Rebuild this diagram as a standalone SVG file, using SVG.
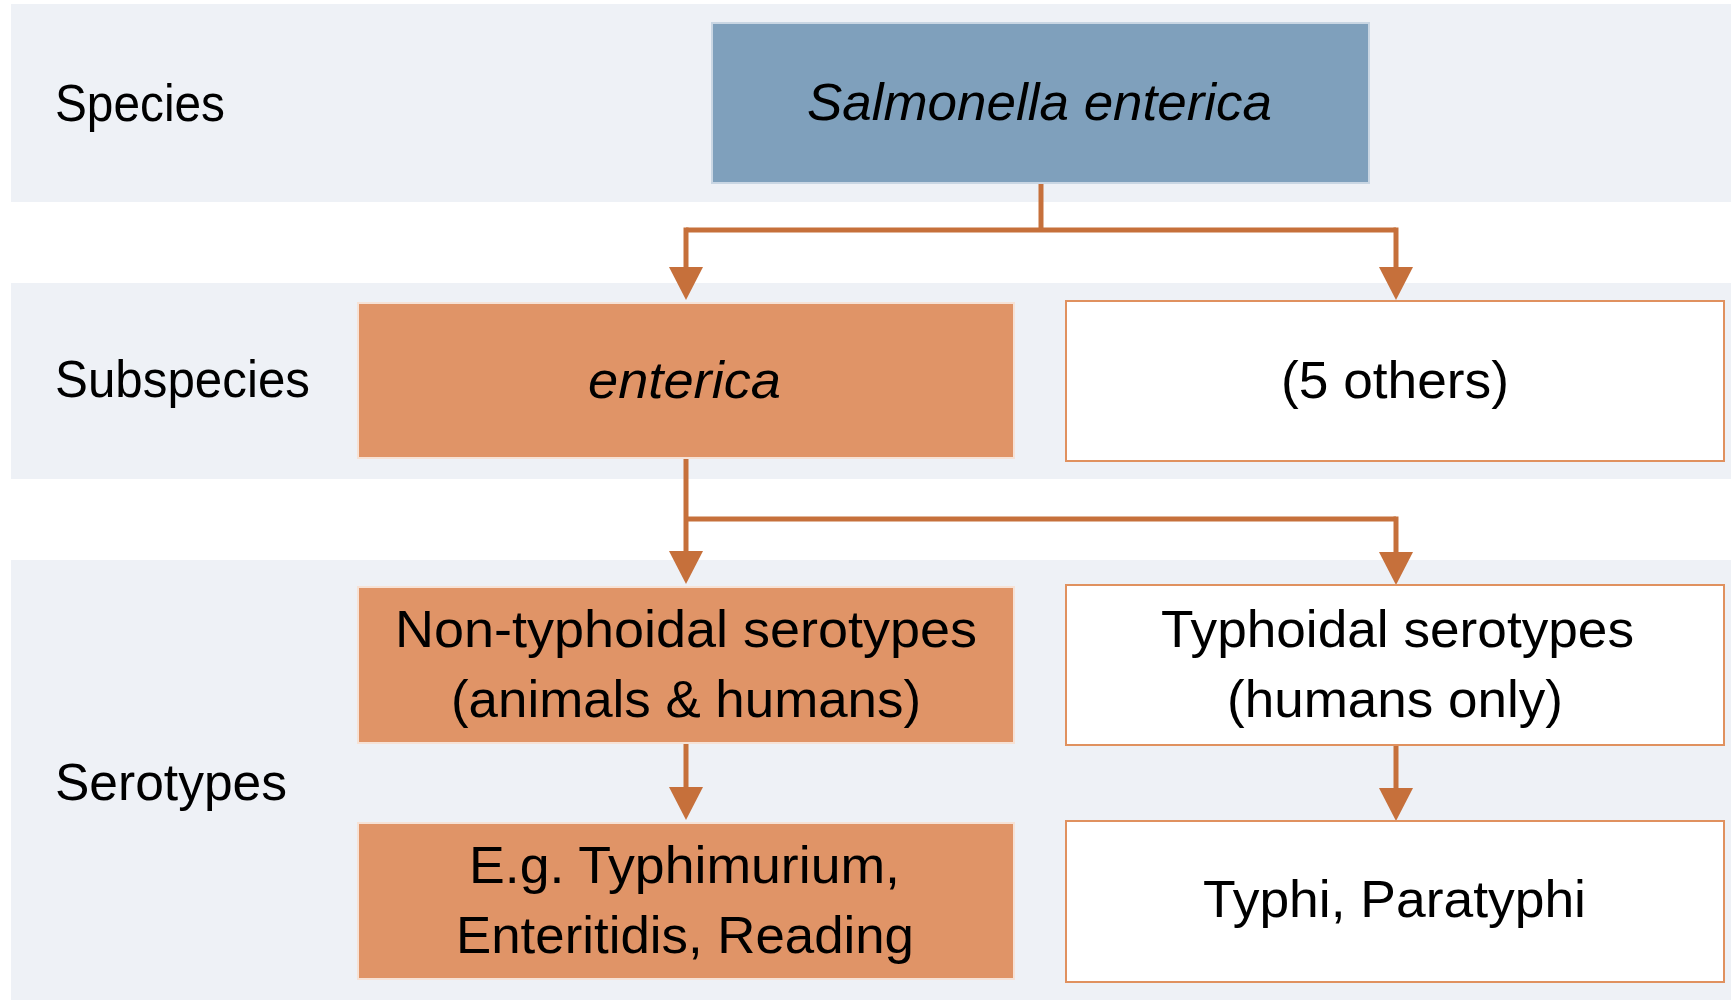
<svg xmlns="http://www.w3.org/2000/svg" width="1731" height="1000" viewBox="0 0 1731 1000">
  <defs>
    <style>
      .band { fill: #EEF1F6; }
      .t { font-family: "Liberation Sans", Arial, sans-serif; font-size: 52px; fill: #000; }
      .it { font-style: italic; }
      .blue { fill: #7FA0BC; stroke: #C9D6E3; stroke-width: 2; }
      .orange { fill: #E09467; stroke: #F6E2D6; stroke-width: 2; }
      .white { fill: #FFFFFF; stroke: #E0915F; stroke-width: 2; }
      .conn { fill: none; stroke: #C6703B; stroke-width: 5; }
    </style>
    <marker id="arrow" markerUnits="userSpaceOnUse" markerWidth="34" markerHeight="34" refX="0" refY="17" orient="auto" viewBox="0 0 34 34">
      <path d="M0,0 L33,17 L0,34 Z" fill="#C6703B"/>
    </marker>
  </defs>

  <rect width="1731" height="1000" fill="#FFFFFF"/>

  <g id="bands">
    <rect class="band" x="11" y="4" width="1720" height="198"/>
    <rect class="band" x="11" y="283" width="1720" height="196"/>
    <rect class="band" x="11" y="560" width="1720" height="440"/>
  </g>

  <g id="row-labels">
    <text class="t" x="55" y="121" textLength="170" lengthAdjust="spacingAndGlyphs">Species</text>
    <text class="t" x="55" y="397" textLength="255" lengthAdjust="spacingAndGlyphs">Subspecies</text>
    <text class="t" x="55" y="800" textLength="232" lengthAdjust="spacingAndGlyphs">Serotypes</text>
  </g>

  <g id="connectors">
    <path class="conn" d="M1041,183 V230"/>
    <path class="conn" d="M686,230 H1396"/>
    <path class="conn" d="M686,227.5 V267" marker-end="url(#arrow)"/>
    <path class="conn" d="M1396,227.5 V267" marker-end="url(#arrow)"/>
    <path class="conn" d="M686,458 V551" marker-end="url(#arrow)"/>
    <path class="conn" d="M686,519 H1396"/>
    <path class="conn" d="M1396,516.5 V552" marker-end="url(#arrow)"/>
    <path class="conn" d="M686,743 V787" marker-end="url(#arrow)"/>
    <path class="conn" d="M1396,745 V788" marker-end="url(#arrow)"/>
  </g>

  <g id="node-species">
    <rect class="blue" x="712" y="23" width="657" height="160"/>
    <text class="t it" x="807" y="120" textLength="465" lengthAdjust="spacingAndGlyphs">Salmonella enterica</text>
  </g>

  <g id="node-enterica">
    <rect class="orange" x="358" y="303" width="656" height="155"/>
    <text class="t it" x="588" y="398" textLength="193" lengthAdjust="spacingAndGlyphs">enterica</text>
  </g>

  <g id="node-others">
    <rect class="white" x="1066" y="301" width="658" height="160"/>
    <text class="t" x="1281" y="398" textLength="228" lengthAdjust="spacingAndGlyphs">(5 others)</text>
  </g>

  <g id="node-nontyphoidal">
    <rect class="orange" x="358" y="587" width="656" height="156"/>
    <text class="t" x="395" y="647" textLength="582" lengthAdjust="spacingAndGlyphs">Non-typhoidal serotypes</text>
    <text class="t" x="451" y="717" textLength="470" lengthAdjust="spacingAndGlyphs">(animals &amp; humans)</text>
  </g>

  <g id="node-typhoidal">
    <rect class="white" x="1066" y="585" width="658" height="160"/>
    <text class="t" x="1161" y="647" textLength="473" lengthAdjust="spacingAndGlyphs">Typhoidal serotypes</text>
    <text class="t" x="1227" y="717" textLength="336" lengthAdjust="spacingAndGlyphs">(humans only)</text>
  </g>

  <g id="node-nt-examples">
    <rect class="orange" x="358" y="823" width="656" height="156"/>
    <text class="t" x="469" y="883" textLength="431" lengthAdjust="spacingAndGlyphs">E.g. Typhimurium,</text>
    <text class="t" x="456" y="953" textLength="458" lengthAdjust="spacingAndGlyphs">Enteritidis, Reading</text>
  </g>

  <g id="node-t-examples">
    <rect class="white" x="1066" y="821" width="658" height="161"/>
    <text class="t" x="1203" y="917" textLength="383" lengthAdjust="spacingAndGlyphs">Typhi, Paratyphi</text>
  </g>
</svg>
